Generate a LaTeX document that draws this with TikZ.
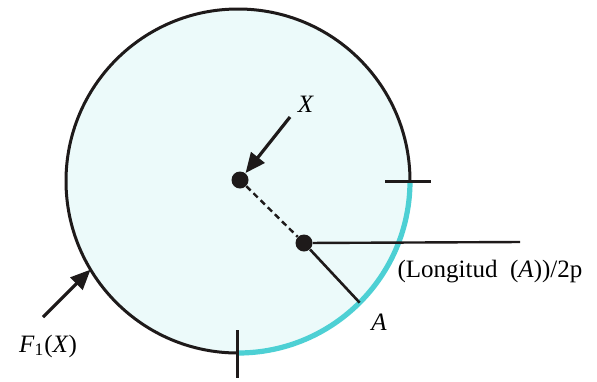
\documentclass[tikz,border=0pt]{standalone}
\usepackage{fontspec}
\setmainfont{Liberation Serif}
\usetikzlibrary{arrows.meta,positioning,calc}
\definecolor{arccyan}{RGB}{77,208,212}
\definecolor{discfill}{RGB}{236,250,250}
\definecolor{rimblack}{RGB}{30,26,26}

\begin{document}
\begin{tikzpicture}[
        x=0.5pt, y=-0.5pt,
        dot/.style={circle, fill=rimblack, inner sep=0pt, minimum size=8.5pt},
        rim/.style={line width=1.5pt, draw=rimblack},
        marker/.style={line width=1.5pt, draw=rimblack},
        pointer/.style={-{Triangle[length=10pt, width=8.5pt]}, line width=1.6pt, draw=rimblack, fill=rimblack},
        label/.style={font=\fontsize{12.5}{14}\selectfont, inner sep=1pt}
    ]
        \useasboundingbox (0,0) rectangle (597,381);

        % Disc
        \coordinate (ctr) at (238,181);
        \fill[discfill] (ctr) circle[radius=172];

        % Rim
        \draw[rim] ($(ctr)+(0:172)$) arc[start angle=0, end angle=-270, radius=172];
        \draw[line width=2.6pt, draw=arccyan] ($(ctr)+(90:172)$) arc[start angle=90, end angle=0, radius=172];

        % Points
        \node[dot] (X) at (240,180) {};
        \node[dot] (P) at (304,243) {};
        \coordinate (A) at ($(ctr)+(45:172)$);
        \coordinate (F) at ($(ctr)+(149:172)$);
        \coordinate (Pend) at (520,242);

        % Radii
        \draw[line width=1.2pt, dash pattern=on 3pt off 2pt, draw=rimblack] (X) -- (P);
        \draw[line width=1.3pt, draw=rimblack] (P) -- (A);
        \draw[line width=1.2pt, draw=rimblack] (P) -- (Pend);

        % Ticks
        \coordinate (tb1) at (237,330);
        \coordinate (tb2) at (237,378);
        \coordinate (tr1) at (385,181);
        \coordinate (tr2) at (431,181);
        \draw[marker] (tb1) -- (tb2);
        \draw[marker] (tr1) -- (tr2);

        % Pointers
        \coordinate (xtail) at (290,117);
        \coordinate (ftail) at (43,317);
        \draw[pointer] (xtail) -- (X);
        \draw[pointer] (ftail) -- (F);

        % Labels
        \node[label] (lx) at (306,104) {\textit{X}};
        \node[label] (la) at (379,322) {\textit{A}};
        \node[label] (lf) at (48,346) {\textit{F}\textsubscript{1}(\textit{X})};
        \node[label] (ll) at (490,272) {(Longitud\ \ (\textit{A}))/2p};

    \end{tikzpicture}
\end{document}
